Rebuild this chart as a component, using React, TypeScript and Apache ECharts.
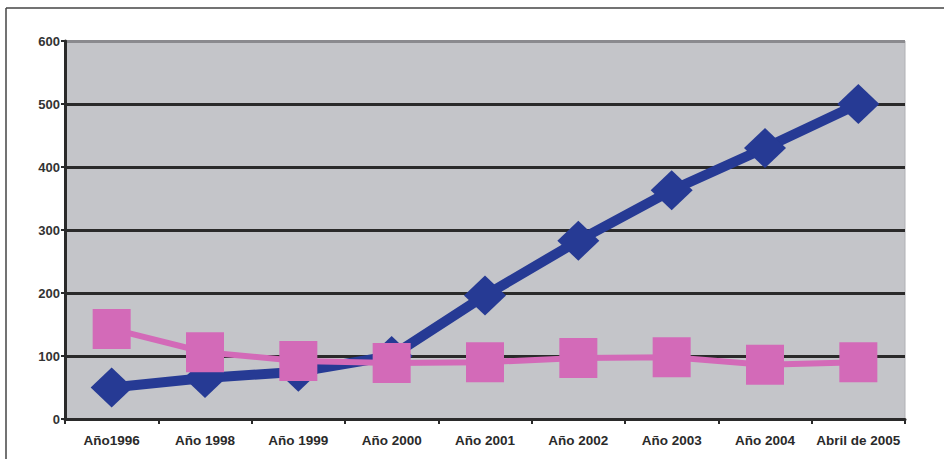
import React, { useEffect, useRef } from "react";
import * as echarts from "echarts";

const categories = [
  "Año1996",
  "Año 1998",
  "Año 1999",
  "Año 2000",
  "Año 2001",
  "Año 2002",
  "Año 2003",
  "Año 2004",
  "Abril de 2005",
];
const blueValues = [50, 65, 75, 100, 196, 283, 363, 430, 500];
const pinkValues = [143, 106, 92, 89, 90, 97, 98, 86, 90];
const yTicks = { min: 0, max: 600, interval: 100 };

export default function App() {
  const ref = useRef<HTMLDivElement>(null);
  useEffect(() => {
    document.body.style.margin = "0";
    const chart = echarts.init(ref.current!, null, { renderer: "svg" });
    chart.setOption({
      animation: false,
      backgroundColor: "#ffffff",
      textStyle: { fontFamily: "Liberation Sans, Arial, sans-serif" },
      graphic: [
        {
          type: "line",
          shape: { x1: 6, y1: 8, x2: 944, y2: 8 },
          style: { stroke: "#444", lineWidth: 1.5 },
        },
        {
          type: "line",
          shape: { x1: 6, y1: 8, x2: 6, y2: 459 },
          style: { stroke: "#444", lineWidth: 1.5 },
        },
      ],
      grid: {
        left: 65,
        top: 41,
        right: 39,
        bottom: 40,
        show: true,
        backgroundColor: "#c4c5c9",
        borderColor: "#b0b0b4",
        borderWidth: 1,
      },
      xAxis: {
        type: "category",
        data: categories,
        boundaryGap: true,
        axisLine: { lineStyle: { color: "#2a2a2a", width: 3 } },
        axisTick: { show: true, length: 5, lineStyle: { color: "#2a2a2a", width: 2 } },
        axisLabel: {
          color: "#2a2a2a",
          fontSize: 13.5,
          fontWeight: "bold",
          margin: 14,
          interval: 0,
        },
        splitLine: { show: false },
      },
      yAxis: {
        type: "value",
        min: yTicks.min,
        max: yTicks.max,
        interval: yTicks.interval,
        axisLine: { show: true, lineStyle: { color: "#2a2a2a", width: 3 } },
        axisTick: { show: true, length: 4, lineStyle: { color: "#2a2a2a", width: 2 } },
        axisLabel: { color: "#333", fontSize: 13, fontWeight: "bold", margin: 5 },
        splitLine: {
          show: true,
          lineStyle: {
            color: ["#2a2a2a", "#2a2a2a", "#2a2a2a", "#2a2a2a", "#2a2a2a", "#2a2a2a", "#8a8a8e"],
            width: 3,
          },
        },
      },
      series: [
        {
          type: "line",
          data: blueValues,
          symbol: "diamond",
          symbolSize: [42, 40],
          lineStyle: { color: "#263a94", width: 10 },
          itemStyle: { color: "#263a94" },
          z: 2,
        },
        {
          type: "line",
          data: pinkValues,
          symbol: "rect",
          symbolSize: [38, 40],
          lineStyle: { color: "#d36ab8", width: 6 },
          itemStyle: { color: "#d36ab8" },
          z: 3,
        },
      ],
    });
    return () => chart.dispose();
  }, []);
  return <div ref={ref} style={{ width: 944, height: 459 }} />;
}
